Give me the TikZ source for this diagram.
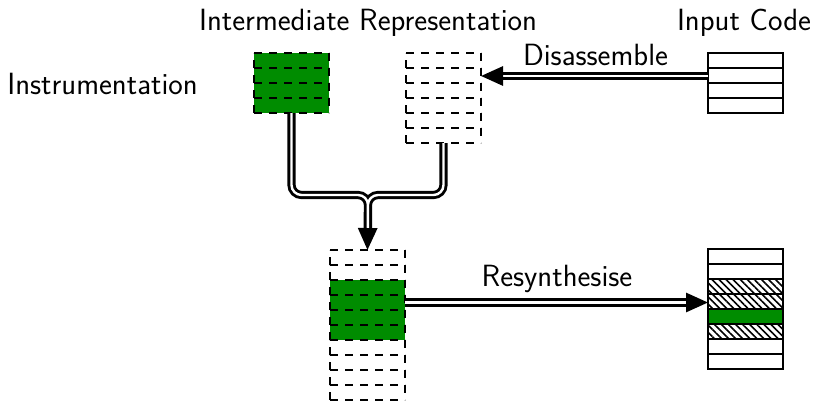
\documentclass[tikz,border=0pt]{standalone}
\usetikzlibrary{arrows.meta,patterns.meta,calc}
\definecolor{instgreen}{RGB}{0,140,0}
\tikzset{
  blk/.style={anchor=north west, minimum width=75pt, inner sep=0pt, outer sep=0pt},
  dashrow/.style={draw=black, line width=2.8pt, dash pattern=on 8pt off 7pt},
  solidrow/.style={draw=black, line width=2.6pt},
  hatch/.style={pattern={Lines[angle=-45, distance=5pt, line width=1.6pt]}},
  dbl/.style={double, draw=black, line width=2.9pt, double distance=2.4pt,
    -{Triangle[length=22pt,width=19pt]}},
  lbl/.style={font=\fontsize{30.7}{36}\selectfont\sffamily, inner sep=0pt, anchor=base}
}
% dashed stack of #3 rows, 75 wide and 15 high each, top left corner at (#1,#2)
\newcommand\dashstack[3]{%
  \foreach \i in {0,...,#3} \draw[dashrow] (#1,#2+15*\i) -- +(75,0);
  \foreach \i in {1,...,#3} \draw[dashrow] (#1,#2+15*\i) -- +(0,-15);
  \draw[dashrow] (#1+75,#2) -- +(0,15*#3);
}
\begin{document}
\begin{tikzpicture}[x=1pt,y=-1pt]
\useasboundingbox (0,0) rectangle (816,402);

% block frames (invisible, used as anchors)
\node[blk, minimum height=60pt]  (instr) at (254,53)  {};
\node[blk, minimum height=90pt]  (ir)    at (406,53)  {};
\node[blk, minimum height=60pt]  (in)    at (708,53)  {};
\node[blk, minimum height=150pt] (mid)   at (330,250) {};
\node[blk, minimum height=120pt] (out)   at (708,249) {};

% instrumentation block: four green dashed rows
\fill[instgreen] (254,53) rectangle +(75,60);
\dashstack{254}{53}{4}

% intermediate representation: six dashed rows
\dashstack{406}{53}{6}

% input code: four solid rows
\foreach \i in {0,...,3} \draw[solidrow] (708,53+15*\i) rectangle +(75,15);

% merged representation: ten dashed rows, four of them green
\fill[instgreen] (330,280) rectangle +(75,60);
\dashstack{330}{250}{10}

% resynthesised code
\foreach \i in {2,3,5} \fill[hatch] (708,249+15*\i) rectangle +(75,15);
\fill[instgreen] (708,249+15*4) rectangle +(75,15);
\foreach \i in {0,...,7} \draw[solidrow] (708,249+15*\i) rectangle +(75,15);

% labels
\node[lbl] (tir)  at (368,30)  {Intermediate Representation};
\node[lbl] (tin)  at (744,30)  {Input Code};
\node[lbl] (tins) at (102.5,94) {Instrumentation};
\node[lbl] (tdis) at (595.5,65) {Disassemble};
\node[lbl] (tres) at (557,286) {Resynthesise};

% connectors
\coordinate (merge) at (368,195);
\draw[dbl] ([yshift=7pt]in.west) -- ([yshift=7pt]in.west -| ir.east);
\draw[dbl, rounded corners=10pt]
  (instr.south) |- (merge) -- ([yshift=-33pt]merge)
  (ir.south) |- (merge) -- (mid.north);
\draw[dbl] ([yshift=22.5pt]mid.east) -- ([yshift=22.5pt]mid.east -| out.west);
\end{tikzpicture}
\end{document}
